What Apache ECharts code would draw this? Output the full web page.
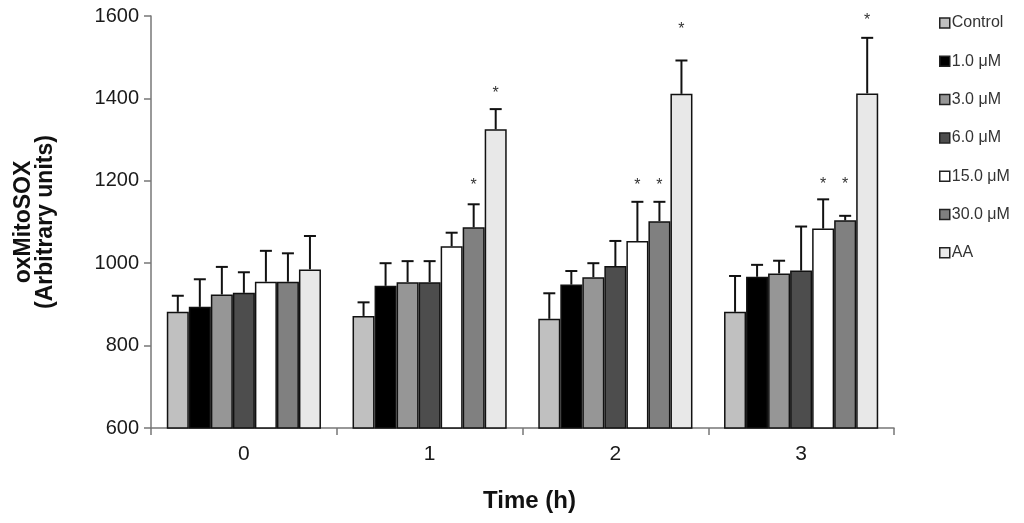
<!DOCTYPE html>
<html>
<head>
<meta charset="utf-8">
<script src="https://cdn.jsdelivr.net/npm/echarts@6/dist/echarts.min.js"></script>
<style>
  html, body { margin: 0; padding: 0; background: #fff; }
  #main { width: 1024px; height: 523px; }
</style>
</head>
<body>
<div id="main"></div>
<script>
// time points (h)
var categories = ['0', '1', '2', '3'];
var seriesNames = ['Control', '1.0 μM', '3.0 μM', '6.0 μM', '15.0 μM', '30.0 μM', 'AA'];
var yTicks = [600, 800, 1000, 1200, 1400, 1600];

// means
var control = [882, 872, 865, 882];
var um1 = [894, 945, 948, 967];
var um3 = [924, 954, 966, 975];
var um6 = [928, 954, 993, 982];
var um15 = [955, 1041, 1054, 1084];
var um30 = [955, 1087, 1102, 1104];
var aa = [985, 1325, 1411, 1412];

// upper error (SD)
var controlErr = [39, 33, 62, 87];
var um1Err = [67, 55, 33, 29];
var um3Err = [67, 51, 34, 31];
var um6Err = [50, 51, 61, 107];
var um15Err = [75, 33, 95, 71];
var um30Err = [69, 56, 47, 11];
var aaErr = [81, 49, 81, 135];

// where the "*" marks sit (axis units), null = not significant
var controlStar = [null, null, null, null];
var um1Star = [null, null, null, null];
var um3Star = [null, null, null, null];
var um6Star = [null, null, null, null];
var um15Star = [null, null, 1200, 1202];
var um30Star = [null, 1200, 1200, 1202];
var aaStar = [null, 1425, 1578, 1602];

var colors = ['#c0c0c0', '#000000', '#969696', '#4d4d4d', '#ffffff', '#808080', '#e8e8e8'];

var means = [control, um1, um3, um6, um15, um30, aa];
var errs = [controlErr, um1Err, um3Err, um6Err, um15Err, um30Err, aaErr];
var stars = [controlStar, um1Star, um3Star, um6Star, um15Star, um30Star, aaStar];

var FONT = '"Liberation Sans", Arial, sans-serif';
var GAP = 0.17; // category gap fraction

var chart = echarts.init(document.getElementById('main'));

var series = [];
for (var s = 0; s < seriesNames.length; s++) {
	series.push({
		name: seriesNames[s],
		type: 'bar',
		data: means[s],
		barGap: '0%',
		barCategoryGap: (GAP * 100) + '%',
		itemStyle: { color: colors[s], borderColor: '#111', borderWidth: 1.5 },
		animation: false
	});
}

// error bars + stars
var errData = [];
for (var s = 0; s < seriesNames.length; s++) {
	for (var c = 0; c < categories.length; c++) {
		errData.push([c, means[s][c], means[s][c] + errs[s][c], s, stars[s][c]]);
	}
}

series.push({
	type: 'custom',
	data: errData,
	z: 10,
	animation: false,
	clip: false,
	renderItem: function (params, api) {
		var c = api.value(0);
		var s = api.value(3);
		var band = api.size([1, 0])[0];
		var bw = band * (1 - GAP) / 7;
		var center = api.coord([c, api.value(1)]);
		var x = center[0] + (s - 3) * bw;
		var top = api.coord([c, api.value(2)])[1];
		var capHalf = 6;
		var children = [
			{ type: 'line', shape: { x1: x, y1: center[1], x2: x, y2: top }, style: { stroke: '#111', lineWidth: 2 } },
			{ type: 'line', shape: { x1: x - capHalf, y1: top, x2: x + capHalf, y2: top }, style: { stroke: '#111', lineWidth: 2 } }
		];
		var st = api.value(4);
		if (st != null && !isNaN(st)) {
			var sy = api.coord([c, st])[1];
			children.push({
				type: 'text',
				style: {
					text: '*', x: x, y: sy + 5, align: 'center', verticalAlign: 'middle',
					fill: '#333', font: '16px ' + FONT
				}
			});
		}
		return { type: 'group', children: children };
	}
});

var option = {
	animation: false,
	grid: { left: 151, right: 130, top: 16, bottom: 95 },
	legend: {
		orient: 'vertical',
		left: 934,
		top: 10,
		itemWidth: 10,
		itemHeight: 10,
		itemGap: 22.3,
		icon: 'rect',
		data: seriesNames.map(function (n) {
			return { name: n, itemStyle: { borderColor: '#222', borderWidth: 1.5 } };
		}),
		textStyle: { fontFamily: FONT, fontSize: 16, lineHeight: 14, color: '#333', padding: [0, 0, 0, -3] }
	},
	xAxis: {
		type: 'category',
		data: categories,
		name: 'Time (h)',
		nameLocation: 'middle',
		nameGap: 61,
		nameTextStyle: { fontFamily: FONT, fontSize: 24, fontWeight: 'bold', color: '#111', padding: [0, 0, 0, 14] },
		axisLine: { lineStyle: { color: '#777', width: 1.5 } },
		axisTick: { show: true, length: 7, lineStyle: { color: '#777', width: 1.5 } },
		axisLabel: { fontFamily: FONT, fontSize: 21, color: '#1a1a1a', margin: 16 }
	},
	yAxis: {
		type: 'value',
		min: yTicks[0],
		max: yTicks[yTicks.length - 1],
		interval: 200,
		name: 'oxMitoSOX\n(Arbitrary units)',
		nameLocation: 'middle',
		nameGap: 94,
		nameRotate: 90,
		nameTextStyle: { fontFamily: FONT, fontSize: 23, fontWeight: 'bold', color: '#111', lineHeight: 22 },
		axisLine: { show: true, lineStyle: { color: '#777', width: 1.5 } },
		axisTick: { show: true, length: 7, lineStyle: { color: '#777', width: 1.5 } },
		splitLine: { show: false },
		axisLabel: {
			fontFamily: FONT, fontSize: 20, color: '#1a1a1a', margin: 12,
			formatter: function (v) { return String(v); }
		}
	},
	series: series
};

chart.setOption(option);
</script>
</body>
</html>
